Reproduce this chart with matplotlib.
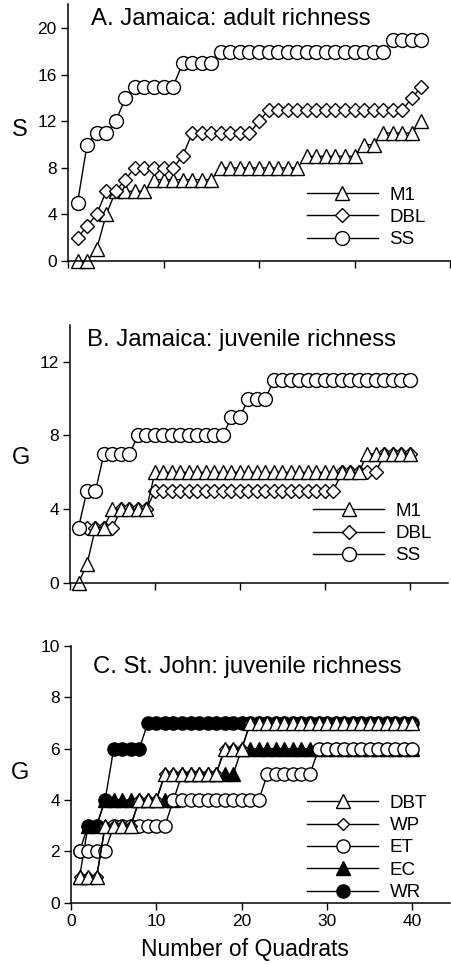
import matplotlib
matplotlib.use('Agg')
import matplotlib.pyplot as plt
import numpy as np

plt.rcParams['font.family'] = ['Liberation Sans', 'DejaVu Sans']

# ----------------------------
# A. Jamaica: adult richness (37 quadrats)
# ----------------------------
a_m1 = [0, 0, 1, 4, 6, 6, 6, 6, 7, 7, 7, 7, 7, 7, 7, 8, 8, 8, 8, 8, 8, 8, 8, 8,
        9, 9, 9, 9, 9, 9, 10, 10, 11, 11, 11, 11, 12]
a_dbl = [2, 3, 4, 6, 6, 7, 8, 8, 8, 8, 8, 9, 11, 11, 11, 11, 11, 11, 11, 12,
         13, 13, 13, 13, 13, 13, 13, 13, 13, 13, 13, 13, 13, 13, 13, 14, 15]
a_ss = [5, 10, 11, 11, 12, 14, 15, 15, 15, 15, 15, 17, 17, 17, 17, 18, 18, 18,
        18, 18, 18, 18, 18, 18, 18, 18, 18, 18, 18, 18, 18, 18, 18, 19, 19, 19, 19]

# ----------------------------
# B. Jamaica: juvenile richness (40 quadrats)
# ----------------------------
b_m1 = [0, 1, 3, 3, 4, 4, 4, 4, 4, 6, 6, 6, 6, 6, 6, 6, 6, 6, 6, 6, 6, 6, 6, 6,
        6, 6, 6, 6, 6, 6, 6, 6, 6, 6, 7, 7, 7, 7, 7, 7]
b_dbl = [3, 3, 3, 3, 3, 4, 4, 4, 4, 5, 5, 5, 5, 5, 5, 5, 5, 5, 5, 5, 5, 5, 5, 5,
         5, 5, 5, 5, 5, 5, 5, 6, 6, 6, 6, 6, 7, 7, 7, 7]
b_ss = [3, 5, 5, 7, 7, 7, 7, 8, 8, 8, 8, 8, 8, 8, 8, 8, 8, 8, 9, 9, 10, 10, 10,
        11, 11, 11, 11, 11, 11, 11, 11, 11, 11, 11, 11, 11, 11, 11, 11, 11]

# ----------------------------
# C. St. John: juvenile richness (40 quadrats)
# ----------------------------
c_dbt = [1, 1, 1, 3, 3, 3, 3, 4, 4, 4, 5, 5, 5, 5, 5, 5, 5, 6, 6, 6, 7, 7, 7, 7,
         7, 7, 7, 7, 7, 7, 7, 7, 7, 7, 7, 7, 7, 7, 7, 7]
c_wp = [1, 1, 1, 3, 3, 3, 3, 4, 4, 4, 5, 5, 5, 5, 5, 5, 5, 6, 6, 6, 7, 7, 7, 7,
        7, 7, 7, 7, 7, 7, 7, 7, 7, 7, 7, 7, 7, 7, 7, 7]
c_et = [2, 2, 2, 2, 3, 3, 3, 3, 3, 3, 3, 4, 4, 4, 4, 4, 4, 4, 4, 4, 4, 4, 5, 5,
        5, 5, 5, 5, 6, 6, 6, 6, 6, 6, 6, 6, 6, 6, 6, 6]
c_ec = [1, 3, 3, 4, 4, 4, 4, 4, 4, 4, 4, 4, 5, 5, 5, 5, 5, 5, 5, 6, 6, 6, 6, 6,
        6, 6, 6, 6, 6, 6, 6, 6, 6, 6, 6, 6, 6, 6, 6, 6]
c_wr = [2, 3, 3, 4, 6, 6, 6, 6, 7, 7, 7, 7, 7, 7, 7, 7, 7, 7, 7, 7, 7, 7, 7, 7,
        7, 7, 7, 7, 7, 7, 7, 7, 7, 7, 7, 7, 7, 7, 7, 7]

xticks = [0, 10, 20, 30, 40]

fig = plt.figure(figsize=(4.52, 9.64), dpi=100)
axA = fig.add_axes([0.1504, 0.7293, 0.8496, 0.2666])
axB = fig.add_axes([0.1549, 0.3955, 0.8363, 0.2673])
axC = fig.add_axes([0.1571, 0.0636, 0.8385, 0.2663])


def series(ax, y, marker, label, ms, filled=False):
    q = np.arange(1, len(y) + 1)
    fc = 'black' if filled else 'white'
    ax.plot(q, y, color='black', lw=1.0, marker=marker, ms=ms, mfc=fc,
            mec='black', mew=1.0, label=label, clip_on=False)


def style(ax, ylim, yticks, xlim, ylab, lab_xy, title, title_xy):
    ax.set_xlim(*xlim)
    ax.set_ylim(*ylim)
    ax.set_yticks(yticks)
    ax.set_xticks(xticks)
    for s in ['top', 'right']:
        ax.spines[s].set_visible(False)
    for s in ['left', 'bottom']:
        ax.spines[s].set_linewidth(1.1)
    ax.tick_params(direction='out', length=5, width=1, labelsize=12.5, pad=3)
    ax.set_ylabel(ylab, rotation=0, fontsize=17, ha='center', va='center')
    ax.yaxis.set_label_coords(*lab_xy)
    ax.text(title_xy[0], title_xy[1], title, transform=ax.transAxes,
            fontsize=17.3, ha='left', va='center')


# panel A
series(axA, a_m1, '^', 'M1', 10)
series(axA, a_dbl, 'D', 'DBL', 7.2)
series(axA, a_ss, 'o', 'SS', 10)
style(axA, (0, 22.1), [0, 4, 8, 12, 16, 20], (0, 40.2), 'S', (-0.125, 0.51),
      'A. Jamaica: adult richness', (0.06, 0.94))
axA.set_xticklabels([])

# panel B
series(axB, b_dbl, 'D', 'DBL', 7.2)
series(axB, b_m1, '^', 'M1', 10)
series(axB, b_ss, 'o', 'SS', 10)
style(axB, (0, 14), [0, 4, 8, 12], (0, 44.5), 'G', (-0.13, 0.484),
      'B. Jamaica: juvenile richness', (0.045, 0.942))
axB.set_xticklabels([])

# panel C
series(axC, c_wr, 'o', 'WR', 9.5, filled=True)
series(axC, c_ec, '^', 'EC', 9.5, filled=True)
series(axC, c_et, 'o', 'ET', 9.5)
series(axC, c_wp, 'D', 'WP', 6.5)
series(axC, c_dbt, '^', 'DBT', 9.5)
style(axC, (0, 10), [0, 2, 4, 6, 8, 10], (0, 44.4), 'G', (-0.135, 0.505),
      'C. St. John: juvenile richness', (0.058, 0.918))
axC.set_xlabel('Number of Quadrats', fontsize=16.5, va='center')
axC.xaxis.set_label_coords(0.459, -0.184)

leg_kw = dict(loc='upper left', frameon=False, fontsize=13.5, handlelength=3.8,
              handletextpad=0.6, labelspacing=0.28, borderpad=0, borderaxespad=0)

h, l = axA.get_legend_handles_labels()
order = ['M1', 'DBL', 'SS']
axA.legend([h[l.index(k)] for k in order], order, bbox_to_anchor=(0.622, 0.29), **leg_kw)

h, l = axB.get_legend_handles_labels()
axB.legend([h[l.index(k)] for k in order], order, bbox_to_anchor=(0.643, 0.311), **leg_kw)

h, l = axC.get_legend_handles_labels()
order = ['DBT', 'WP', 'ET', 'EC', 'WR']
axC.legend([h[l.index(k)] for k in order], order, bbox_to_anchor=(0.623, 0.421), **leg_kw)

fig.savefig('out.png', dpi=100)
